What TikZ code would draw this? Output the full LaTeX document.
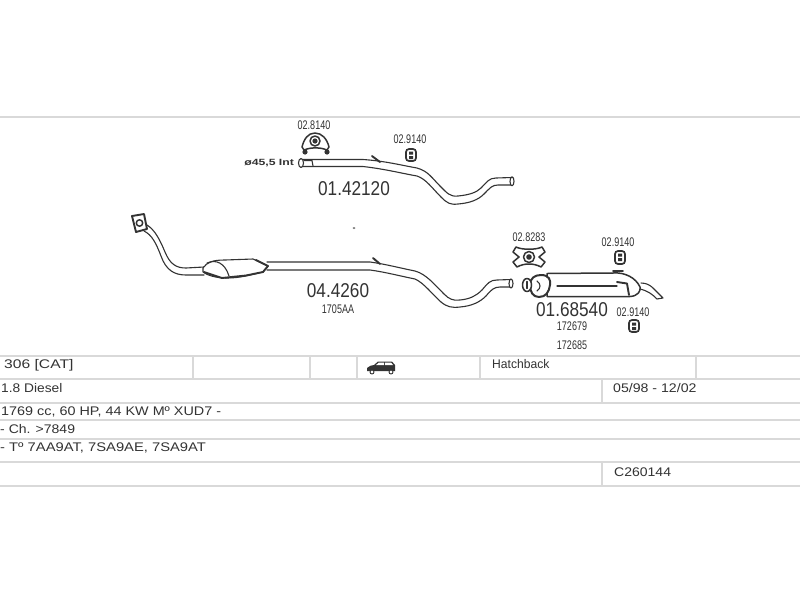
\documentclass[tikz,border=0pt]{standalone}
\usepackage{fontspec}
\setmainfont{Liberation Sans}
\definecolor{rule}{HTML}{D9D9D9}
\definecolor{ink}{HTML}{333333}
\tikzset{
  gridline/.style={draw=rule,line width=1.6pt},
  gridthin/.style={draw=rule,line width=1.2pt},
  pipe/.style={draw=ink,line width=1.1pt,line join=round,line cap=round},
  heavy/.style={draw=ink,line width=1.9pt,line join=round,line cap=round},
  mount/.style={draw=ink,fill=white,line width=1.5pt,line join=round},
  hanger/.style={draw=ink,fill=white,line width=1.7pt,rounded corners=3pt},
  cell/.style={inner sep=0pt,anchor=west,text=ink,font=\fontsize{12.5}{14}\selectfont},
  big/.style={inner sep=0pt,text=ink,font=\fontsize{20}{22}\selectfont,xscale=0.86},
  small/.style={inner sep=0pt,text=ink,font=\fontsize{12.5}{14}\selectfont,xscale=0.72},
}
\begin{document}
\begin{tikzpicture}[x=1pt,y=-1pt]
\useasboundingbox (0,0) rectangle (800,600);
\fill[white] (0,0) rectangle (800,600);
% table rules
\foreach \yy in {117,356,379,403,420,439,462,486} \draw[gridline] (0,\yy) -- (800,\yy);
\foreach \xx in {193,310,357,480,696} \draw[gridthin] (\xx,356) -- (\xx,379);
\draw[gridthin] (602,379) -- (602,403);
\draw[gridthin] (602,462) -- (602,486);
% upper pipe
\draw[pipe] (302,159.5) -- (363,159.5) .. controls (385,161) and (400,165) .. (417,168) .. controls (428,171) and (432,178) .. (440,186) .. controls (447,193) and (450,197) .. (458,196) .. controls (468,195) and (476,193) .. (481,188) .. controls (487,182) and (489,178) .. (496,178) -- (512,177.5);
\draw[pipe] (302,166.5) -- (363,166.5) .. controls (385,169) and (400,173) .. (417,176) .. controls (426,179) and (432,188) .. (441,197) .. controls (447,203) and (450,205) .. (458,204) .. controls (470,203) and (478,200) .. (484,194) .. controls (490,188) and (492,185) .. (498,185) -- (512,185);
\draw[pipe,fill=white] (512,181.3) ellipse (2 and 4.5);
\draw[pipe,fill=white] (301,163) ellipse (2.5 and 4.5);
\draw[pipe] (304,160.5) -- (312,160.5) -- (313,166);
\draw[heavy] (372,156) -- (380,162);
\node[inner sep=0pt,anchor=west,text=ink,xscale=1.36,font=\bfseries\fontsize{9}{10}\selectfont] (dia) at (244,163) {ø45,5 Int};
\node[big] (p1) at (354,189) {01.42120};
% clamp 02.8140
\node[small] (l1) at (314,125) {02.8140};
\draw[mount] (302,147) .. controls (304,139) and (308,133) .. (315,133) .. controls (322,133) and (327,139) .. (329,147) -- (327,150) .. controls (319,147) and (312,147) .. (304,150) -- cycle;
\fill[ink] (305,152) circle (2.6) (327,152) circle (2.6);
\draw[mount] (315,141) circle (5);
\fill[ink] (315,141) circle (2.6);
% hanger upper
\node[small] (l2) at (410,139) {02.9140};
\draw[hanger] (406,149) rectangle (416,161);
\fill[ink] (409,151.5) rectangle (413,154.5) (409,156) rectangle (413,159);
% left pipe with cat
\draw[heavy] (132,216) -- (144,214) -- (147,229) -- (136,232) -- cycle;
\draw[pipe,line width=1.5pt,fill=white] (139.5,223) circle (3.2);
\draw[pipe] (147,225) .. controls (155,230) and (160,240) .. (165,252) .. controls (170,264) and (176,268) .. (186,268) -- (204,267);
\draw[pipe] (144,231) .. controls (152,235) and (156,243) .. (161,256) .. controls (166,270) and (174,275) .. (186,275) -- (204,275);
\draw[pipe,fill=white] (203,268) .. controls (207,262) and (213,260) .. (225,260) -- (253,259) -- (268,266) -- (263,272) .. controls (250,275) and (240,278) .. (227,278) .. controls (215,278) and (207,275) .. (203,272) -- cycle;
\draw[pipe] (207,263) .. controls (216,259) and (225,263) .. (229,276);
\draw[heavy] (204,272) -- (222,278) -- (246,275.5) -- (263,272) -- (268,266);
\draw[heavy] (256,260) -- (268,266);
\draw[pipe] (267,262) -- (370,262) .. controls (385,264) and (400,268) .. (415,271) .. controls (426,274) and (434,284) .. (444,294) .. controls (449,299) and (453,301) .. (460,300) .. controls (470,299) and (476,296) .. (482,290) .. controls (488,283) and (490,280) .. (497,280) -- (511,279.5);
\draw[pipe] (267,270) -- (370,270) .. controls (385,272) and (400,276) .. (415,279) .. controls (424,283) and (432,294) .. (441,302) .. controls (447,307) and (452,308) .. (460,307) .. controls (472,306) and (480,302) .. (486,296) .. controls (491,290) and (494,287) .. (500,287) -- (511,287);
\draw[pipe,fill=white] (511,283.5) ellipse (2 and 4.5);
\draw[heavy] (373,258) -- (380,264);
\fill[ink!70] (354,227) -- (355.5,228) -- (354,229) -- (352.5,228) -- cycle;
\node[big] (p2) at (338,291) {04.4260};
\node[small] (l3) at (338,309) {1705AA};
% right clamp
\node[small] (l4) at (529,237) {02.8283};
\draw[mount] (516,247) .. controls (522,250) and (536,250) .. (542,247) -- (545,252) -- (539,257) -- (545,262) -- (541,267) .. controls (534,263) and (524,263) .. (517,267) -- (513,262) -- (519,257) -- (513,252) -- cycle;
\draw[mount] (529,257) circle (5.5);
\fill[ink] (529,257) circle (2.8);
% rear muffler
\draw[pipe] (641,283) .. controls (646,283) and (650,285) .. (653,288) -- (663,298) -- (657,299) .. controls (652,294) and (648,291) .. (640,289);
\draw[pipe,line width=1.5pt,fill=white] (547,273.5) -- (613,273) .. controls (625,272) and (636,278) .. (640,287) .. controls (641,291) and (638,296) .. (630,296.5) -- (547,296.5) -- cycle;
\draw[pipe,line width=2pt,fill=white] (530,285) .. controls (530,278) and (535,275) .. (541,275) .. controls (549,275) and (551,280) .. (550,285) .. controls (549,292) and (546,297) .. (539,297) .. controls (533,297) and (530,292) .. (530,285) -- cycle;
\draw[mount] (527,285) ellipse (4.5 and 6.5);
\draw[pipe] (527,281.5) -- (527,288.5);
\draw[pipe] (537,281) .. controls (541,284) and (541,288) .. (537,291);
\draw[pipe] (557,286) -- (617,286);
\draw[heavy] (617,282) -- (627,283.5) -- (629,295);
\draw[heavy] (613,271) -- (623,271);
\node[big] (p3) at (572,310) {01.68540};
\node[small] (l5) at (572,326) {172679};
\node[small] (l6) at (572,345) {172685};
\node[small] (l7) at (618,242) {02.9140};
\draw[hanger] (615,251) rectangle (625,264);
\fill[ink] (618,253.5) rectangle (622,256.5) (618,258) rectangle (622,261);
\node[small] (l8) at (633,312) {02.9140};
\draw[hanger] (629,320) rectangle (639,332);
\fill[ink] (632,322.5) rectangle (636,325.5) (632,327) rectangle (636,330);
% car icon
\fill[ink] (367,368) .. controls (369,366) and (372,365) .. (374,365) -- (378,361.5) -- (392,361.5) -- (395,365) -- (395,371) -- (367,371) -- cycle;
\fill[white] (376,365) -- (379,362.5) -- (384,362.5) -- (384,365) -- cycle;
\fill[white] (385,365) -- (385,362.5) -- (391,362.5) -- (393,365) -- cycle;
\draw[draw=ink,fill=white,line width=0.9pt] (372,372) circle (2) (391,372) circle (2);
% table texts
\node[cell,xscale=1.25] (t1) at (4,365) {306  [CAT]};
\node[cell,xscale=0.97] (t2) at (492,364) {Hatchback};
\node[cell,xscale=1.1] (t3) at (1,388) {1.8 Diesel};
\node[cell,xscale=1.13] (t4) at (613,388) {05/98 - 12/02};
\node[cell,xscale=1.15] (t5) at (1,412) {1769 cc, 60 HP, 44 KW  Mº XUD7 -};
\node[cell,xscale=1.12] (t6) at (0,429) {- Ch. >7849};
\node[cell,xscale=1.18] (t7) at (0,448) {- Tº 7AA9AT, 7SA9AE, 7SA9AT};
\node[cell,xscale=1.12] (t8) at (614,472) {C260144};
\end{tikzpicture}
\end{document}
